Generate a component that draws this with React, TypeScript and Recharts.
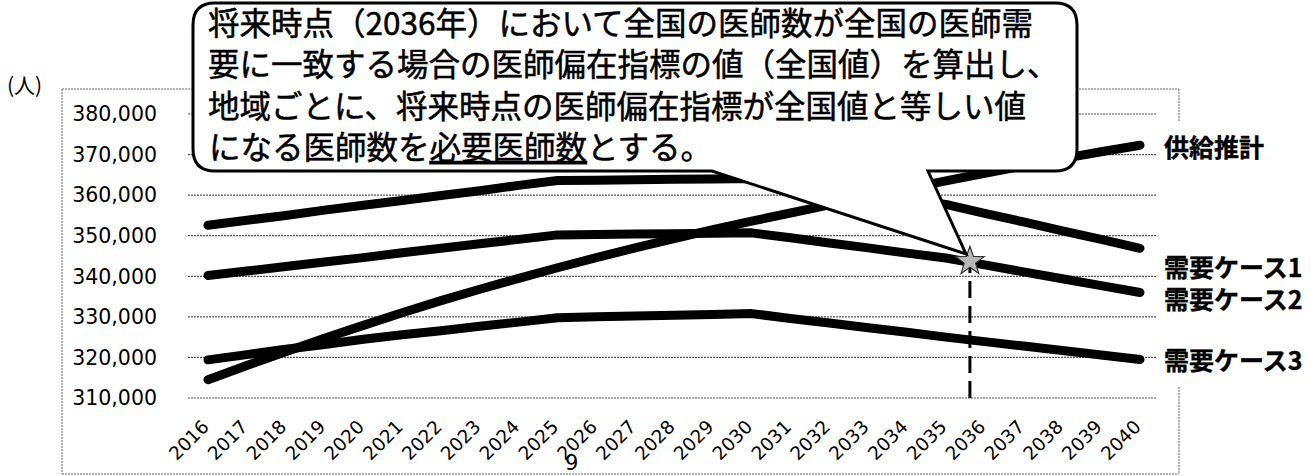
import React from 'react';
import {
  LineChart,
  Line,
  XAxis,
  YAxis,
  CartesianGrid,
  ReferenceLine,
  ReferenceDot,
} from 'recharts';

// 年次
const years = [
  2016, 2017, 2018, 2019, 2020, 2021, 2022, 2023, 2024, 2025, 2026, 2027, 2028,
  2029, 2030, 2031, 2032, 2033, 2034, 2035, 2036, 2037, 2038, 2039, 2040,
];

// 供給推計
const supply = [
  314500, 318000, 321400, 324700, 327900, 331000, 334000, 336800, 339500, 342100,
  344600, 347000, 349300, 351500, 353600, 355600, 357600, 359600, 361600, 363500,
  365400, 367200, 369000, 370700, 372300,
];

// 需要ケース1
const demand1 = [
  352600, 353800, 355000, 356300, 357500, 358700, 359900, 361100, 362400, 363600,
  363700, 363800, 363900, 364000, 364100, 362800, 361500, 360300, 359000, 357700,
  355500, 353400, 351200, 349100, 346900,
];

// 需要ケース2
const demand2 = [
  340200, 341300, 342400, 343500, 344600, 345800, 346900, 348000, 349100, 350200,
  350300, 350400, 350500, 350600, 350700, 349500, 348200, 347000, 345700, 344500,
  342800, 341100, 339400, 337700, 336000,
];

// 需要ケース3
const demand3 = [
  319400, 320700, 322000, 323200, 324500, 325600, 326600, 327700, 328700, 329800,
  330000, 330200, 330400, 330600, 330800, 329600, 328500, 327300, 326200, 325000,
  323900, 322800, 321700, 320600, 319500,
];

const valueTicks = [310000, 320000, 330000, 340000, 350000, 360000, 370000, 380000];

// 星印（2036年頃、需要ケース2上）
const starYear = 2035.62;
const starValue = 343700;

const calloutLines = [
  '将来時点（2036年）において全国の医師数が全国の医師需',
  '要に一致する場合の医師偏在指標の値（全国値）を算出し、',
  '地域ごとに、将来時点の医師偏在指標が全国値と等しい値',
];
const calloutLast = ['になる医師数を', '必要医師数', 'とする。'];

const seriesLabels = [
  { text: '供給推計', y: 157 },
  { text: '需要ケース1', y: 277 },
  { text: '需要ケース2', y: 309 },
  { text: '需要ケース3', y: 370 },
];

const rows = years.map((year, i) => ({
  year,
  supply: supply[i],
  demand1: demand1[i],
  demand2: demand2[i],
  demand3: demand3[i],
}));

const JP = '"Noto Sans CJK JP", "Noto Sans", sans-serif';
const NUM = '"DejaVu Sans", Verdana, sans-serif';

const YearTick = (props: any) => {
  const { x, y, payload } = props;
  return (
    <text
      x={0}
      y={0}
      transform={`translate(${x + 2},${y + 30}) rotate(-45)`}
      textAnchor="end"
      fontSize={18.5}
      fontFamily={NUM}
      fill="#000"
    >
      {payload.value}
    </text>
  );
};

const Star = (props: any) => {
  const { cx, cy } = props;
  const pts: string[] = [];
  for (let k = 0; k < 10; k++) {
    const r = k % 2 === 0 ? 15 : 6;
    const a = ((-90 + k * 36) * Math.PI) / 180;
    pts.push(`${cx + r * Math.cos(a)},${cy + r * Math.sin(a)}`);
  }
  return <polygon points={pts.join(' ')} fill="#b8b8b8" stroke="#333" strokeWidth={1.2} />;
};

const lineProps = {
  type: 'linear' as const,
  stroke: '#000',
  strokeWidth: 9,
  dot: false,
  strokeLinecap: 'round' as const,
  strokeLinejoin: 'round' as const,
  isAnimationActive: false,
};

export default function App() {
  return (
    <div
      style={{
        position: 'absolute',
        left: 0,
        top: 0,
        width: 1314,
        height: 476,
        background: '#fff',
        overflow: 'hidden',
      }}
    >
      {/* 外枠 */}
      <svg width={1314} height={476} style={{ position: 'absolute', left: 0, top: 0 }}>
        <g stroke="#666" strokeWidth={1} strokeDasharray="2 1" fill="none">
          <line x1={62} y1={89} x2={1179} y2={89} />
          <line x1={62} y1={89} x2={62} y2={474} />
          <line x1={62} y1={474} x2={1179} y2={474} />
          <line x1={1179} y1={89} x2={1179} y2={122} />
          <line x1={1179} y1={387} x2={1179} y2={474} />
        </g>
      </svg>

      <div style={{ position: 'absolute', left: 0, top: 0 }}>
        <LineChart
          width={1314}
          height={476}
          data={rows}
          margin={{ top: 114, right: 157, bottom: 8, left: 0 }}
        >
          <CartesianGrid
            vertical={false}
            stroke="#555"
            strokeWidth={1.2}
            strokeDasharray="2 1"
          />
          <XAxis
            dataKey="year"
            type="number"
            domain={[2016, 2040]}
            ticks={years}
            interval={0}
            padding={{ left: 20, right: 17 }}
            height={70}
            axisLine={false}
            tickLine={false}
            tickSize={0}
            tickMargin={0}
            tick={<YearTick />}
          />
          <YAxis
            domain={[310000, 380000]}
            ticks={valueTicks}
            width={188}
            axisLine={false}
            tickLine={false}
            tickSize={0}
            tickMargin={31}
            tickFormatter={(v: number) => v.toLocaleString('en-US')}
            tick={{ fontSize: 20.5, fontFamily: NUM, fill: '#000' }}
          />
          <Line dataKey="supply" {...lineProps} />
          <Line dataKey="demand1" {...lineProps} />
          <Line dataKey="demand2" {...lineProps} />
          <Line dataKey="demand3" {...lineProps} />
          <ReferenceLine
            segment={[
              { x: starYear, y: 310000 },
              { x: starYear, y: starValue },
            ]}
            stroke="#000"
            strokeWidth={3}
            strokeDasharray="17 8"
          />
          <ReferenceDot x={starYear} y={starValue} r={15} shape={<Star />} />
        </LineChart>
      </div>

      {/* 吹き出し・ラベル */}
      <svg
        width={1314}
        height={476}
        style={{ position: 'absolute', left: 0, top: 0, pointerEvents: 'none' }}
      >
        <path
          d="M 215 3 H 1055 Q 1077 3 1077 25 V 149 Q 1077 171 1055 171 H 928 L 966 254 L 712 171 H 215 Q 193 171 193 149 V 25 Q 193 3 215 3 Z"
          fill="#fff"
          stroke="#000"
          strokeWidth={3}
        />
        <g fontFamily={JP} fontSize={31.5} fill="#000" stroke="#000" strokeWidth={0.5}>
          {calloutLines.map((t, i) => (
            <text key={i} x={208} y={35 + i * 41.3}>
              {t}
            </text>
          ))}
          <text x={209} y={159}>
            {calloutLast[0]}
            <tspan textDecoration="underline">{calloutLast[1]}</tspan>
            {calloutLast[2]}
          </text>
        </g>

        <text x={7} y={93} fontFamily={JP} fontSize={21} fill="#000">
          (人)
        </text>

        <g fontFamily={JP} fontSize={25} fontWeight={700} fill="#000" stroke="#000" strokeWidth={0.4}>
          {seriesLabels.map((l) => (
            <text key={l.text} x={1164} y={l.y}>
              {l.text}
            </text>
          ))}
        </g>

        <text x={565} y={470} fontFamily={NUM} fontSize={21} fill="#000">
          9
        </text>
      </svg>
    </div>
  );
}
